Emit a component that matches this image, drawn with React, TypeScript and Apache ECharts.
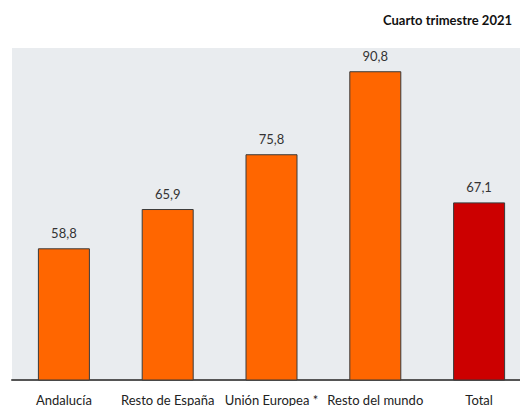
import React, { useEffect, useRef } from "react";
import * as echarts from "echarts";

const categories = ["Andalucía", "Resto de España", "Unión Europea *", "Resto del mundo", "Total"];
const values = [58.8, 65.9, 75.8, 90.8, 67.1];
const titleText = "Cuarto trimestre 2021";

const FONT = 'Lato, "Open Sans", sans-serif';

export default function App() {
  const ref = useRef<HTMLDivElement>(null);
  useEffect(() => {
    if (!ref.current) return;
    const chart = echarts.init(ref.current, undefined, { renderer: "svg" });
    chart.setOption({
      animation: false,
      textStyle: { fontFamily: FONT },
      graphic: [
        {
          type: "text",
          right: 19,
          top: 13,
          style: {
            text: titleText,
            fontFamily: FONT,
            fontSize: 13,
            fontWeight: "bold",
            fill: "#111",
          },
        },
      ],
      grid: {
        left: 12,
        right: 0,
        top: 48,
        bottom: 24,
        show: true,
        backgroundColor: "#e9ecef",
        borderWidth: 0,
      },
      xAxis: {
        type: "category",
        data: categories,
        axisLine: { lineStyle: { color: "#555", width: 2 } },
        axisTick: { show: false },
        axisLabel: { fontFamily: FONT, fontSize: 13, color: "#222", margin: 13, interval: 0 },
      },
      yAxis: {
        type: "value",
        min: 35,
        max: 95,
        show: false,
        splitLine: { show: false },
      },
      series: [
        {
          type: "bar",
          data: values,
          barWidth: 52,
          itemStyle: {
            color: (p: any) => (p.name === "Total" ? "#cc0000" : "#ff6600"),
            borderColor: "#3a3a3a",
            borderWidth: 1,
          },
          label: {
            show: true,
            position: "top",
            distance: 9,
            fontFamily: FONT,
            fontSize: 13,
            color: "#333",
            formatter: (p: any) => Number(p.value).toFixed(1).replace(".", ","),
          },
        },
      ],
    });
    return () => chart.dispose();
  }, []);
  return (
    <div
      style={{ position: "fixed", left: 0, top: 0, width: 520, height: 406, overflow: "hidden", background: "#fff" }}
    >
      <div ref={ref} style={{ width: 531, height: 406 }} />
    </div>
  );
}
